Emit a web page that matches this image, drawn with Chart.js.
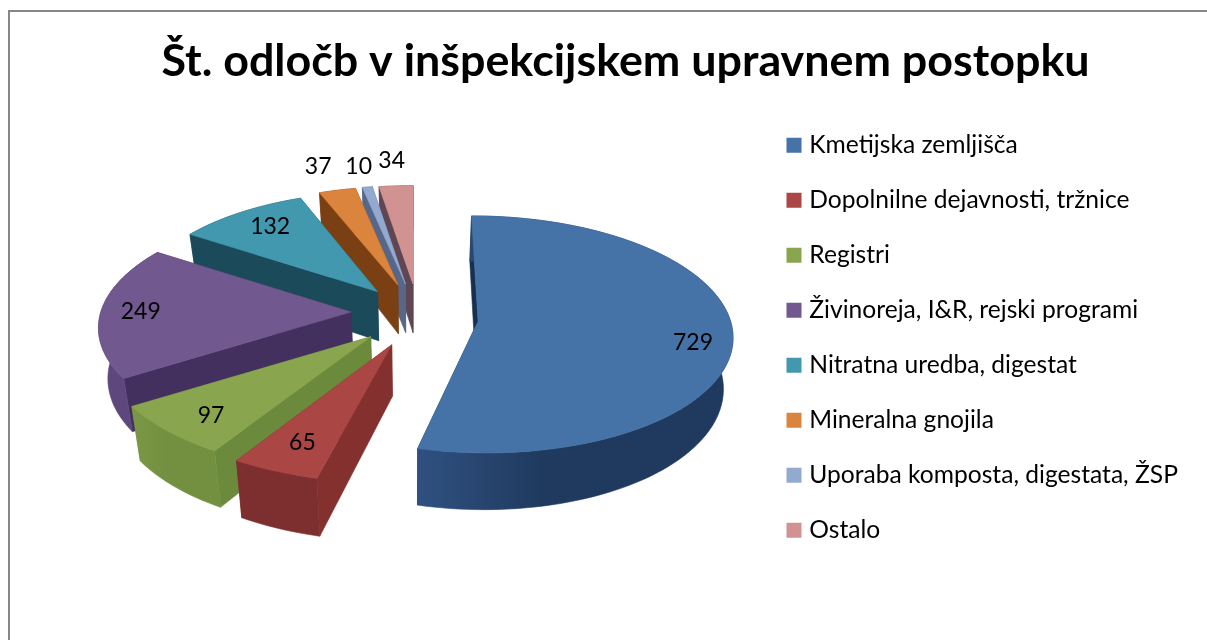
<!DOCTYPE html>
<html><head><meta charset="utf-8">
<style>
html,body{margin:0;padding:0;background:#fff;overflow:hidden}
#frame{position:absolute;left:8px;top:10px;width:1199px;height:630px;border-left:2px solid #868686;border-top:2px solid #868686;box-sizing:border-box}
#wrap{position:absolute;left:0;top:0;width:1207px;height:640px}
</style>
<script src="https://cdn.jsdelivr.net/npm/chart.js@4"></script>
</head><body>
<div id="frame"></div>
<div id="wrap"><canvas id="c" width="1207" height="640"></canvas></div>
<script>
const titleText = 'Št. odločb v inšpekcijskem upravnem postopku';
const categories = ['Kmetijska zemljišča','Dopolnilne dejavnosti, tržnice','Registri','Živinoreja, I&R, rejski programi','Nitratna uredba, digestat','Mineralna gnojila','Uporaba komposta, digestata, ŽSP','Ostalo'];
const values = [729,65,97,249,132,37,10,34];
const topColors = ['#4572A7','#AA4643','#89A54E','#71588F','#4198AF','#DB843D','#93A9CF','#D19392'];
const cutColors = ['#16304f','#83302f','#6b8a3c','#43305f','#1b4a5a','#7a3f12','#56678a','#5f4652'];
const wallLeft  = ['#2f5080','#7c2f2e','#7a9845','#5d477d','#1b4a5a','#7a3f12','#56678a','#5f4652'];
const wallRight = ['#1f3a5e','#7c2f2e','#739040','#5d477d','#1b4a5a','#7a3f12','#56678a','#5f4652'];
const explodeX = [0.25,-0.08,-0.16,-0.24,-0.14,-0.06,-0.03,0];
const explodeY = [-0.08,-0.277,-0.21,0,0.18,0.24,0.25,0.25];
const radiusX = [0.97,1,1,0.97,0.95,0.95,0.95,0.95];
const labelRadius = [0.85,0.8,0.75,0.8,0.8,1.3,1.3,1.35];
const labelDX = [-8,2,-10,-4,10,1,4,2];
const labelDY = [9,-1,10,0,-1,1,5,5];
const drawOrder = [7,6,5,4,3,2,1,0];

const FONT = 'Lato, Carlito, Calibri, sans-serif';
const VIEW = {cx:413, cy:312, A:258, B:115, D:50, p:0.11, shrink:0.03};
function project(X,Y,z){
  const w = 1 + VIEW.p*Y, s = 1 - VIEW.shrink*z;
  return [VIEW.cx + VIEW.A*X/w*s, VIEW.cy - VIEW.B*Y/w + VIEW.D*z/w];
}
function poly(ctx,pts,fill){
  ctx.beginPath();
  pts.forEach((q,i)=> i?ctx.lineTo(q[0],q[1]):ctx.moveTo(q[0],q[1]));
  ctx.closePath();
  ctx.fillStyle = fill; ctx.strokeStyle = fill; ctx.lineWidth = 0.6;
  ctx.fill(); ctx.stroke();
}
const pie3d = {
  id:'pie3d',
  afterLayout(chart){
    const t = chart.titleBlock; t.left += 34;
    const l = chart.legend, pad = l.options.labels.padding;
    l.left = 791 - pad; l.top = 133 - pad;
  },
  beforeDatasetDraw(chart,args){
    const ctx = chart.ctx, arcs = args.meta.data;
    ctx.save();
    drawOrder.forEach(i=>{
      const a0 = arcs[i].startAngle + Math.PI/2, a1 = arcs[i].endAngle + Math.PI/2;
      const ex = explodeX[i], ey = explodeY[i], rx = radiusX[i];
      const n = Math.max(4, Math.ceil((a1-a0)/0.03));
      const pts = z => { const r=[]; for(let k=0;k<=n;k++){const t=a0+(a1-a0)*k/n; r.push(project(ex+rx*Math.sin(t),ey+Math.cos(t),z));} return r; };
      const up = pts(0), lo = pts(1), cu = project(ex,ey,0), cl = project(ex,ey,1);
      poly(ctx,[cu,up[0],lo[0],cl],cutColors[i]);
      poly(ctx,[cu,up[n],lo[n],cl],cutColors[i]);
      const xs = up.map(q=>q[0]), g = ctx.createLinearGradient(Math.min(...xs),0,Math.max(...xs),0);
      g.addColorStop(0,wallLeft[i]); g.addColorStop(0.4,wallRight[i]); g.addColorStop(1,wallRight[i]);
      poly(ctx,up.concat(lo.slice().reverse()),g);
      poly(ctx,[cu].concat(up),topColors[i]);
    });
    ctx.restore();
    return false;
  },
  afterDatasetsDraw(chart){
    const ctx = chart.ctx, arcs = chart.getDatasetMeta(0).data;
    ctx.save();
    ctx.font = '23px '+FONT; ctx.fillStyle='#000'; ctx.textAlign='center'; ctx.textBaseline='middle';
    arcs.forEach((a,i)=>{
      const t = (a.startAngle+a.endAngle)/2 + Math.PI/2, r = labelRadius[i];
      const q = project(explodeX[i]+r*Math.sin(t),explodeY[i]+r*Math.cos(t),0);
      ctx.fillText(String(values[i]),q[0]+labelDX[i],q[1]+labelDY[i]);
    });
    ctx.restore();
  }
};
new Chart(document.getElementById('c'),{
  type:'pie',
  data:{labels:categories,datasets:[{data:values,backgroundColor:topColors}]},
  plugins:[pie3d],
  options:{
    responsive:false,animation:false,events:[],
    layout:{padding:{left:20,right:10,top:0,bottom:0}},
    plugins:{
      tooltip:{enabled:false},
      title:{display:true,text:titleText,color:'#000',font:{family:FONT,size:44.8,weight:'bold',lineHeight:1.2},padding:{top:35,bottom:10}},
      legend:{position:'right',align:'start',
        labels:{boxWidth:6,boxHeight:6,padding:30.4,color:'#000',font:{family:FONT,size:24.6,lineHeight:1},
          generateLabels:()=>categories.map((c,i)=>({text:c,fillStyle:topColors[i],strokeStyle:topColors[i],lineWidth:9,lineJoin:'miter',hidden:false,index:i}))}}
    }
  }
});
</script>
</body></html>
